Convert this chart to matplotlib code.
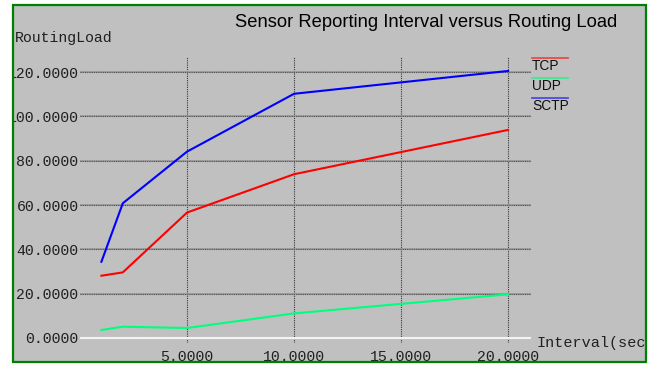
import matplotlib

matplotlib.use("Agg")
import matplotlib.pyplot as plt
from matplotlib.patches import Rectangle
from matplotlib.lines import Line2D

# report interval (sec) and routing load per protocol
interval = [1, 2, 5, 10, 20]
tcp = [28.1, 29.6, 56.6, 73.9, 93.9]
udp = [3.6, 5.1, 4.5, 11.1, 19.7]
sctp = [34.4, 60.8, 84.1, 110.2, 120.5]

xticks = [5, 10, 15, 20]
yticks = [0, 20, 40, 60, 80, 100, 120]

W, H = 652, 365
BG = "#c0c0c0"
MONO = "Liberation Mono"
SANS = "Liberation Sans"


def fx(px):
    return px / W


def fy(py):
    return 1 - py / H


fig = plt.figure(figsize=(W / 100, H / 100), dpi=100)
fig.patch.set_facecolor("white")

# grey panel behind everything
fig.add_artist(Rectangle((fx(13), fy(362)), fx(645.5) - fx(13), fy(5) - fy(362),
                         transform=fig.transFigure, facecolor=BG, edgecolor="none", zorder=-10))

ax = fig.add_axes([fx(80), fy(343), fx(531) - fx(80), fy(57) - fy(343)])
ax.set_facecolor(BG)
ax.patch.set_alpha(0)
for s in ax.spines.values():
    s.set_visible(False)
ax.set_xlim(0, 21.07)
ax.set_ylim(-2.26, 126.8)

# grid
for v in xticks:
    ax.axvline(v, color="#383838", lw=0.8, ls=(0, (1, 1)), zorder=1)
for v in yticks[1:]:
    ax.axhline(v, color="#9a9a9a", lw=1.3, zorder=1)
    ax.axhline(v, color="#505050", lw=0.8, ls=(0, (1, 1)), zorder=1)
ax.axhline(0, color="#f4f4f4", lw=1.5, zorder=1)

ax.plot(interval, tcp, color="#ff0000", lw=1.5, zorder=3)
ax.plot(interval, udp, color="#00ff7f", lw=1.5, zorder=3)
ax.plot(interval, sctp, color="#0000ff", lw=1.5, zorder=3)

ax.set_xticks(xticks)
ax.set_xticklabels([f"{v:.4f}" for v in xticks])
ax.set_yticks(yticks)
ax.set_yticklabels([f"{v:.4f}" for v in yticks])
ax.tick_params(length=0, labelsize=10.7, colors="#202020")
ax.tick_params(axis="y", pad=1)
ax.tick_params(axis="x", pad=5)
for lab in ax.get_xticklabels() + ax.get_yticklabels():
    lab.set_fontfamily(MONO)

fig.text(fx(15), fy(38), "RoutingLoad", family=MONO, fontsize=10.7,
         color="#202020", va="center", ha="left")
fig.text(fx(537), fy(343), "Interval(sec)", family=MONO, fontsize=10.9,
         color="#202020", va="center", ha="left")
fig.text(fx(235), fy(22.5), "Sensor Reporting Interval versus Routing Load",
         family=SANS, fontsize=13.2, color="#000000", va="center", ha="left")

# legend drawn by hand at the right of the plot
legend = [("TCP", "#f04040", 57.7, 66), ("UDP", "#30f090", 78.3, 86),
          ("SCTP", "#4040f0", 98.3, 106)]
for name, col, ly, ty in legend:
    fig.add_artist(Line2D([fx(532), fx(568)], [fy(ly), fy(ly)], color=col, lw=1.2,
                          transform=fig.transFigure))
    fig.text(fx(532), fy(ty), name, family=SANS, fontsize=9.9, color="#101010",
             va="center", ha="left")

# white margins and green frame on top
fig.add_artist(Rectangle((0, 0), fx(12), 1, transform=fig.transFigure,
                         facecolor="white", edgecolor="none", zorder=20))
fig.add_artist(Rectangle((fx(647), 0), 1 - fx(647), 1, transform=fig.transFigure,
                         facecolor="white", edgecolor="none", zorder=20))
fig.add_artist(Rectangle((fx(13), fy(362)), fx(645.5) - fx(13), fy(5) - fy(362),
                         transform=fig.transFigure, facecolor="none",
                         edgecolor="#008000", lw=1.6, zorder=21))

fig.savefig("out.png", dpi=100)
